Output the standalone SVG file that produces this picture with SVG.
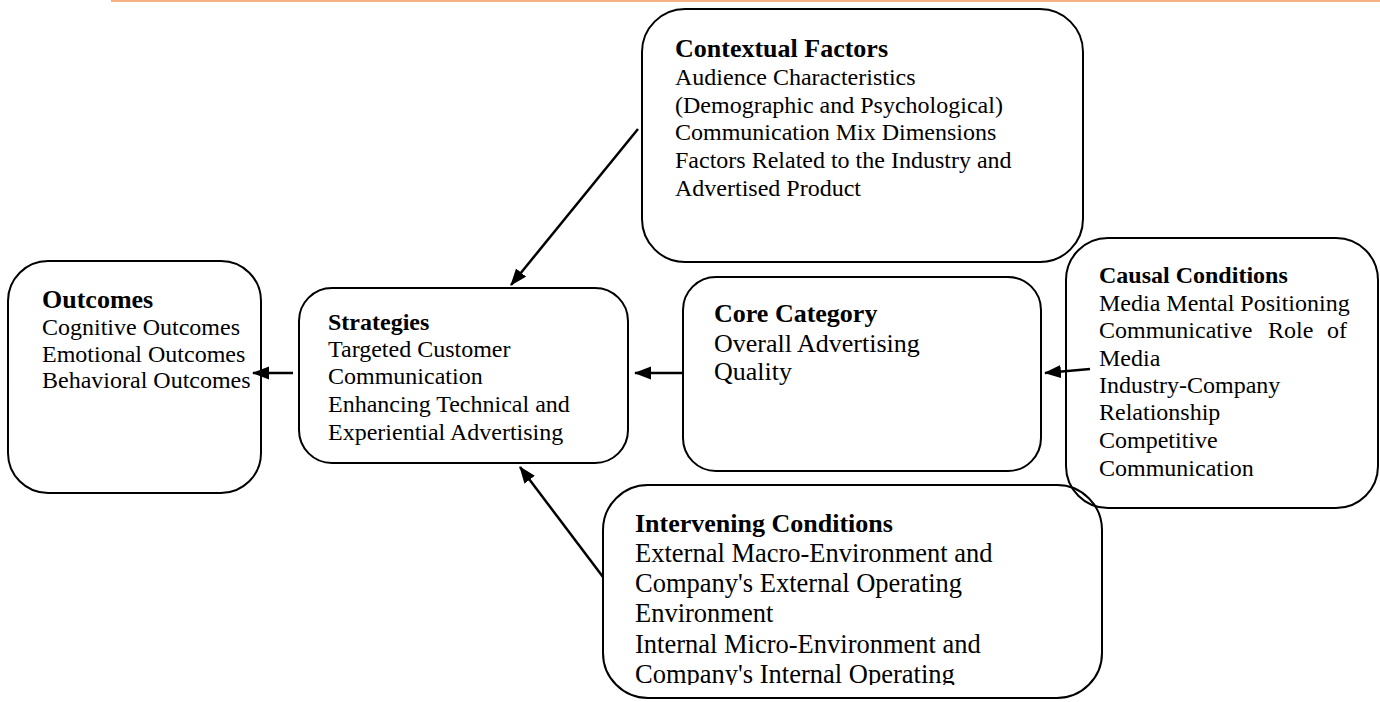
<svg xmlns="http://www.w3.org/2000/svg" width="1380" height="702" viewBox="0 0 1380 702">
<style>
.box{fill:none;stroke:#000;stroke-width:2}
.t{font-family:"Liberation Serif","Times New Roman",serif;fill:#000}
.b{font-weight:bold}
.conn{stroke:#000;stroke-width:2.5;fill:none;marker-end:url(#ah)}
</style>
<defs>
<marker id="ah" markerUnits="userSpaceOnUse" markerWidth="18" markerHeight="14" refX="16" refY="6.5" orient="auto">
<path d="M0,0 L17,6.5 L0,13 z" fill="#000"/>
</marker>
<clipPath id="intclip"><rect x="600" y="480" width="510" height="205"/></clipPath>
</defs>
<rect width="1380" height="702" fill="#fff"/>
<line x1="111" y1="1" x2="1380" y2="1" stroke="#F4B183" stroke-width="2"/>

<g id="outcomes">
<rect class="box" x="8" y="261" width="253" height="232" rx="40" ry="40"/>
<text class="t b" x="42" y="308" font-size="26">Outcomes</text>
<text class="t" x="42" y="335" font-size="24">Cognitive Outcomes</text>
<text class="t" x="42" y="362" font-size="24">Emotional Outcomes</text>
<text class="t" x="42" y="388" font-size="24">Behavioral Outcomes</text>
</g>

<g id="strategies">
<rect class="box" x="299" y="288" width="329" height="175" rx="33" ry="33"/>
<text class="t b" x="328" y="330" font-size="24">Strategies</text>
<text class="t" x="328" y="357" font-size="24">Targeted Customer</text>
<text class="t" x="328" y="384" font-size="24">Communication</text>
<text class="t" x="328" y="412" font-size="24">Enhancing Technical and</text>
<text class="t" x="328" y="440" font-size="24">Experiential Advertising</text>
</g>

<g id="contextual">
<rect class="box" x="642" y="9" width="441" height="253" rx="43" ry="43"/>
<text class="t b" x="675" y="57" font-size="26">Contextual Factors</text>
<text class="t" x="675" y="85" font-size="24">Audience Characteristics</text>
<text class="t" x="675" y="113" font-size="24">(Demographic and Psychological)</text>
<text class="t" x="675" y="140" font-size="24">Communication Mix Dimensions</text>
<text class="t" x="675" y="168" font-size="24">Factors Related to the Industry and</text>
<text class="t" x="675" y="196" font-size="24">Advertised Product</text>
</g>

<g id="core">
<rect class="box" x="683" y="277" width="358" height="194" rx="33" ry="33"/>
<text class="t b" x="714" y="322" font-size="26">Core Category</text>
<text class="t" x="714" y="352" font-size="26">Overall Advertising</text>
<text class="t" x="714" y="380" font-size="26">Quality</text>
</g>

<g id="causal">
<rect class="box" x="1066" y="238" width="312" height="270" rx="42" ry="42"/>
<text class="t b" x="1099" y="283" font-size="24">Causal Conditions</text>
<text class="t" x="1099" y="311" font-size="24">Media Mental Positioning</text>
<text class="t" y="338" font-size="24"><tspan x="1099">Communicative</tspan><tspan x="1268">Role</tspan><tspan x="1327">of</tspan></text>
<text class="t" x="1099" y="366" font-size="24">Media</text>
<text class="t" x="1099" y="393" font-size="24">Industry-Company</text>
<text class="t" x="1099" y="420" font-size="24">Relationship</text>
<text class="t" x="1099" y="448" font-size="24">Competitive</text>
<text class="t" x="1099" y="476" font-size="24">Communication</text>
</g>

<g id="intervening">
<rect class="box" x="603" y="485" width="499" height="213" rx="45" ry="45"/>
<g clip-path="url(#intclip)">
<text class="t b" x="635" y="532" font-size="26">Intervening Conditions</text>
<text class="t" x="635" y="562" font-size="26.5">External Macro-Environment and</text>
<text class="t" x="635" y="592" font-size="26.5">Company's External Operating</text>
<text class="t" x="635" y="622" font-size="26.5">Environment</text>
<text class="t" x="635" y="653" font-size="26.5">Internal Micro-Environment and</text>
<text class="t" x="635" y="683" font-size="26.5">Company's Internal Operating</text>
</g>
</g>

<g id="connectors">
<line class="conn" x1="293" y1="373" x2="253" y2="373"/>
<line class="conn" x1="683" y1="373" x2="635" y2="373"/>
<line class="conn" x1="1090" y1="369" x2="1045" y2="373"/>
<line class="conn" x1="638" y1="129" x2="511" y2="285"/>
<line class="conn" x1="603" y1="577" x2="520" y2="467"/>
</g>
</svg>
